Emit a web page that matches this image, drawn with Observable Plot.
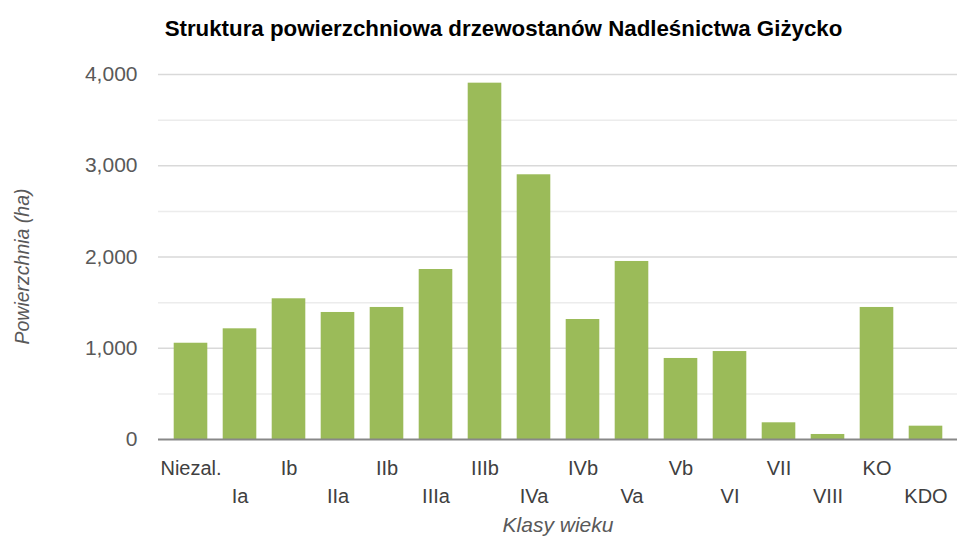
<!DOCTYPE html>
<html><head><meta charset="utf-8">
<script src="https://cdn.jsdelivr.net/npm/d3@7"></script>
<script src="https://cdn.jsdelivr.net/npm/@observablehq/plot@0.6"></script>
<style>
body{margin:0;background:#fff;font-family:"Liberation Sans",Arial,sans-serif;}
#title{height:55px;line-height:57px;text-align:center;font-weight:bold;font-size:22.3px;color:#000;padding-left:50px;box-sizing:border-box;width:957px;}
</style></head>
<body>
<div id="title">Struktura powierzchniowa drzewostanów Nadleśnictwa Giżycko</div>
<div id="chart"></div>
<script>
const categories = ["Niezal.","Ia","Ib","IIa","IIb","IIIa","IIIb","IVa","IVb","Va","Vb","VI","VII","VIII","KO","KDO"];
const values = [1055,1213,1542,1392,1447,1863,3905,2901,1315,1951,888,964,183,55,1447,146];
const majorTicks = [0,1000,2000,3000,4000];
const minorTicks = [500,1500,2500,3500];
const data = categories.map((c,i)=>({cat:c, val:values[i]}));
const row1 = categories.filter((c,i)=>i%2===0);
const row2 = categories.filter((c,i)=>i%2===1);
const chart = Plot.plot({
  width:957, height:486,
  marginTop:19, marginBottom:102, marginLeft:158, marginRight:0,
  style:{fontFamily:"'Liberation Sans',Arial,sans-serif", fontSize:"21px", color:"#595959"},
  x:{domain:categories, padding:0, label:null},
  y:{domain:[0,4000], label:null},
  marks:[
    Plot.ruleY(minorTicks,{stroke:"#ececec", strokeWidth:1.5}),
    Plot.ruleY(majorTicks.slice(1),{stroke:"#d9d9d9", strokeWidth:1.5}),
    Plot.barY(data,{x:"cat", y:"val", fill:"#9bbb59", insetLeft:7.7, insetRight:7.7}),
    Plot.ruleY([0],{stroke:"#888", strokeWidth:2}),
    Plot.axisY(majorTicks,{tickSize:0, tickPadding:21, tickFormat:d3.format(","), fill:"#595959", fontSize:21}),
    Plot.axisX(row1,{tickSize:0, tickPadding:21, label:null, fill:"#404040", fontSize:20}),
    Plot.axisX(row2,{tickSize:0, tickPadding:49, label:null, fill:"#404040", fontSize:20}),
    Plot.text(["Klasy wieku"],{frameAnchor:"bottom", dy:92, fontStyle:"italic", fill:"#595959", fontSize:21}),
    Plot.text(["Powierzchnia (ha)"],{frameAnchor:"left", textAnchor:"middle", dx:-136, dy:9.5, rotate:-90, fontStyle:"italic", fill:"#595959", fontSize:19.5})
  ]
});
document.getElementById("chart").appendChild(chart);
</script>
</body></html>
